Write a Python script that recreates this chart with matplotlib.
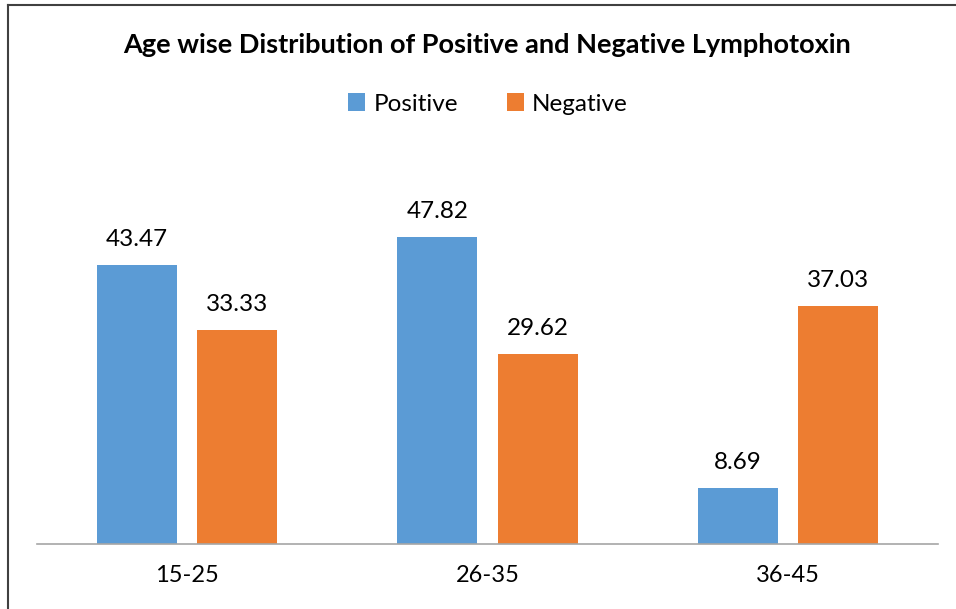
import matplotlib.pyplot as plt
import numpy as np
from matplotlib.lines import Line2D

# Data
categories = ['15-25', '26-35', '36-45']
positive = [43.47, 47.82, 8.69]
negative = [33.33, 29.62, 37.03]

plt.rcParams['font.family'] = ['Lato', 'DejaVu Sans']

fig = plt.figure(figsize=(9.56, 6.09), dpi=100)
ax = fig.add_axes([37 / 956, 65 / 609, 901 / 956, 385 / 609])

x = np.arange(len(categories))
w = 80 / 300
off = 50 / 300
b1 = ax.bar(x - off, positive, w, color='#5B9BD5', label='Positive')
b2 = ax.bar(x + off, negative, w, color='#ED7D31', label='Negative')

for bars, vals in [(b1, positive), (b2, negative)]:
    for rect, v in zip(bars, vals):
        ax.annotate(f'{v:.2f}', xy=(rect.get_x() + rect.get_width() / 2, v),
                    xytext=(0, 11), textcoords='offset points',
                    ha='center', va='bottom', fontsize=17.5, color='#000000')

ax.set_xlim(-0.5, 2.5)
ax.set_ylim(0, 60)
ax.set_xticks(x)
ax.set_xticklabels(categories, fontsize=17)
ax.tick_params(axis='x', length=0, pad=15)
ax.set_yticks([])
for s in ['top', 'right', 'left']:
    ax.spines[s].set_visible(False)
ax.spines['bottom'].set_color('#A6A6A6')
ax.spines['bottom'].set_linewidth(1.2)

fig.text(487 / 956, 1 - 45 / 609, 'Age wise Distribution of Positive and Negative Lymphotoxin',
         ha='center', va='center', fontsize=19.5, fontweight='bold')

fig.legend(handles=[b1, b2], loc='center', bbox_to_anchor=(488 / 956, 1 - 104 / 609),
           ncol=2, frameon=False, fontsize=17.5, handlelength=0.7, handleheight=0.7,
           columnspacing=2.0, handletextpad=0.35)

# outer border (left and top visible)
fig.add_artist(Line2D([8 / 956, 8 / 956], [0, 1 - 5 / 609], transform=fig.transFigure,
                      color='#404040', linewidth=1.5))
fig.add_artist(Line2D([8 / 956, 1], [1 - 5 / 609, 1 - 5 / 609], transform=fig.transFigure,
                      color='#404040', linewidth=1.5))

fig.savefig('out.png', dpi=100)
